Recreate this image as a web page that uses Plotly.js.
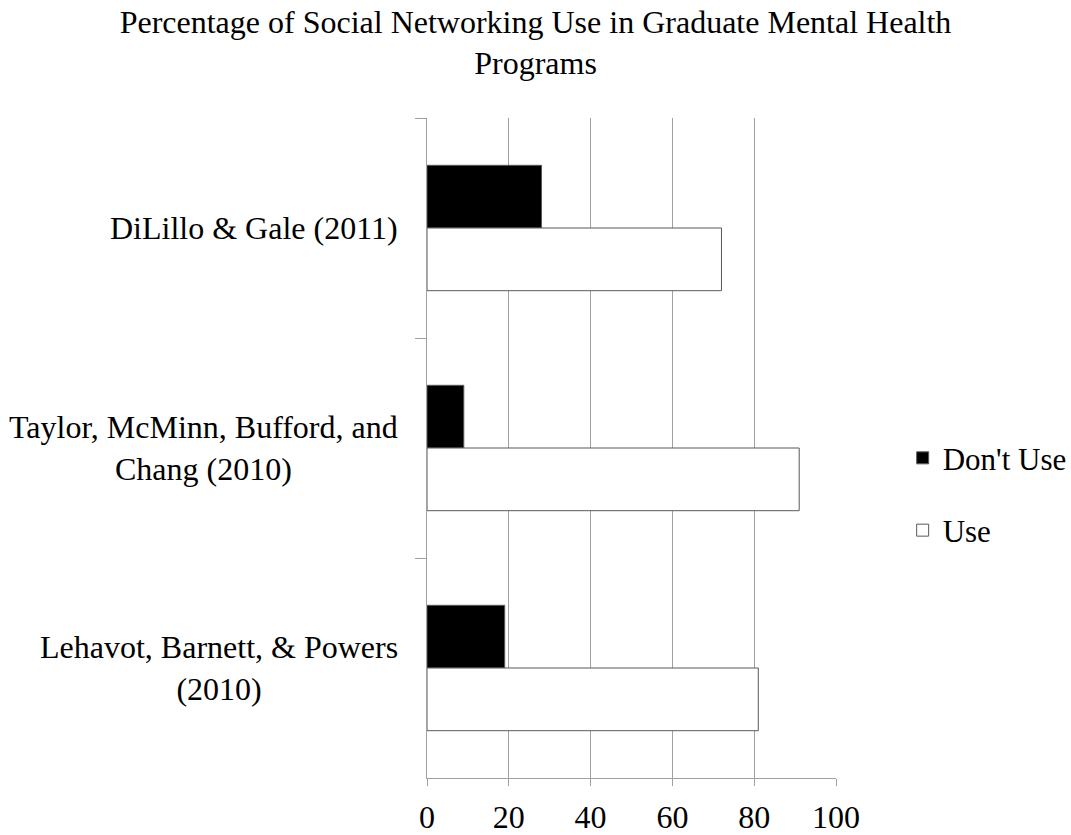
<!DOCTYPE html>
<html>
<head>
<meta charset="utf-8">
<script src="https://cdn.plot.ly/plotly-3.0.1.min.js"></script>
<style>html,body{margin:0;padding:0;background:#fff;}#chart{width:1071px;height:835px;}</style>
</head>
<body>
<div id="chart"></div>
<script>
// Data (top-to-bottom category order, as drawn)
const categories = ["DiLillo", "Taylor", "Lehavot"];
const categoryLabels = ["DiLillo &amp; Gale (2011)", "Taylor, McMinn, Bufford, and<br>Chang (2010)", "Lehavot, Barnett, &amp; Powers<br>(2010)"];
const dontUse = [28, 9, 19];
const use = [72, 91, 81];
const seriesNames = ["Don't Use", "Use"];
const xTicks = [0, 20, 40, 60, 80, 100];
const chartTitle = "Percentage of Social Networking Use in Graduate Mental Health<br>Programs";

const FONT = "'Liberation Serif', 'Times New Roman', Times, serif";
const FS = 32;
const GRID = "#a0a0a0";

const traces = [
  {
    type: "bar", orientation: "h", name: seriesNames[0], y: categories, x: dontUse,
    marker: {color: "#000000", line: {color: "#595959", width: 1}},
    legendgroup: "d", hoverinfo: "x+name"
  },
  {
    type: "bar", orientation: "h", name: seriesNames[1], y: categories, x: use,
    marker: {color: "#ffffff", line: {color: "#595959", width: 1}},
    legendgroup: "u", hoverinfo: "x+name"
  }
];

const annotations = categories.map((c, i) => ({
  xref: "paper", yref: "y", x: -0.066, y: c, xanchor: "right", yanchor: "middle",
  text: categoryLabels[i], align: "center", showarrow: false,
  font: {family: FONT, size: FS, color: "#000"}
}));

const layout = {
  width: 1071, height: 835,
  margin: {l: 427, r: 235, t: 118, b: 57, pad: 0, autoexpand: false},
  paper_bgcolor: "#fff", plot_bgcolor: "#fff",
  font: {family: FONT, size: FS, color: "#000"},
  title: {
    text: chartTitle, x: 0.5, xref: "container", xanchor: "center",
    y: 0.961, yref: "container", yanchor: "top",
    font: {family: FONT, size: FS, color: "#000"}
  },
  barmode: "group", bargap: 0.43, bargroupgap: 0,
  xaxis: {
    range: [0, 100], tickvals: xTicks, ticktext: xTicks.map(String),
    showgrid: true, gridcolor: GRID, gridwidth: 1,
    showline: true, linecolor: GRID, linewidth: 1,
    ticks: "outside", ticklen: 7, tickcolor: GRID, tickwidth: 1,
    ticklabelstandoff: 4,
    tickfont: {family: FONT, size: FS, color: "#000"},
    zeroline: false, fixedrange: true, automargin: false
  },
  yaxis: {
    type: "category", categoryorder: "array", categoryarray: categories,
    range: [2.5, -0.5],
    showticklabels: false, tickson: "boundaries",
    ticks: "outside", ticklen: 11, tickcolor: GRID, tickwidth: 1,
    showline: true, linecolor: GRID, linewidth: 1,
    showgrid: false, zeroline: false, fixedrange: true, automargin: false
  },
  legend: {
    x: 1.163, xanchor: "left", y: 0.43, yanchor: "middle",
    traceorder: "grouped", tracegroupgap: 29,
    font: {family: FONT, size: 31, color: "#000"},
    bgcolor: "rgba(0,0,0,0)", borderwidth: 0
  },
  annotations: annotations
};

Plotly.newPlot("chart", traces, layout, {displayModeBar: false, staticPlot: true});
</script>
</body>
</html>
